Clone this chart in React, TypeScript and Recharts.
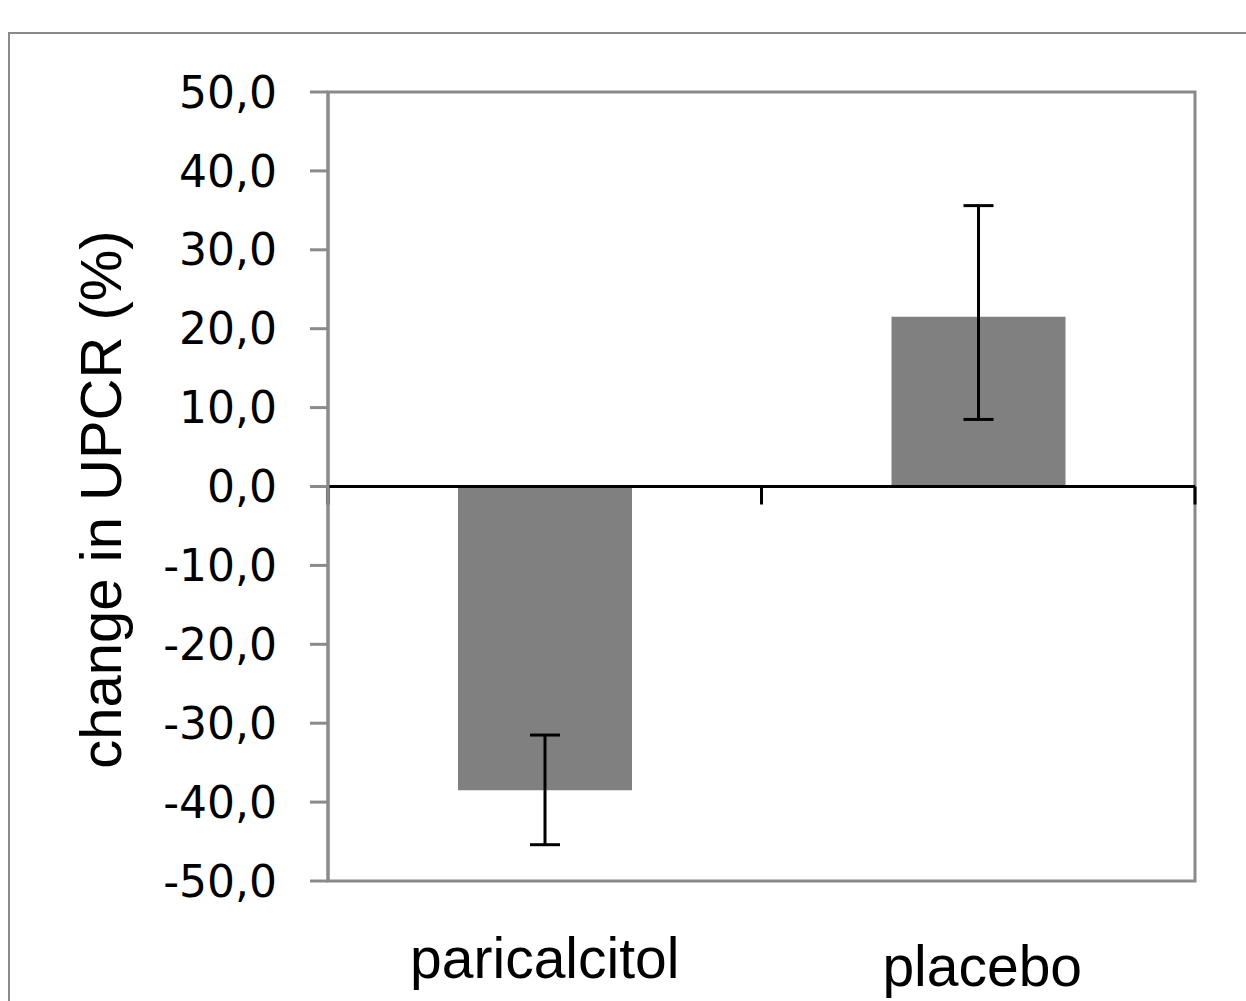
import React from 'react';
import {
  BarChart,
  Bar,
  XAxis,
  YAxis,
  ErrorBar,
  ReferenceLine,
  ReferenceArea,
} from 'recharts';

// groups and their mean change, with [below, above] error
const groups = ['paricalcitol', 'placebo'];
const meanChange = [-38.5, 21.5];
const errorRange = [
  [6.9, 7.0],
  [13.0, 14.1],
];
const yTicks = [-50, -40, -30, -20, -10, 0, 10, 20, 30, 40, 50];

const chartData = groups.map((group, i) => ({
  group,
  change: meanChange[i],
  err: errorRange[i],
}));

const GRAY = '#8a8a8a';
const LABEL_FONT = '"Liberation Sans", Arial, sans-serif';
const TICK_FONT = '"DejaVu Sans", Verdana, sans-serif';

// small per-label nudge seen in the original picture
const labelNudge: Record<string, { dx: number; dy: number }> = {
  paricalcitol: { dx: 0, dy: 0 },
  placebo: { dx: 4, dy: 8 },
};

const GroupTick = (props: any) => {
  const { x, y, payload } = props;
  const nudge = labelNudge[payload.value] || { dx: 0, dy: 0 };
  return (
    <text
      x={x + nudge.dx}
      y={y + nudge.dy}
      dy={41}
      textAnchor="middle"
      fill="#000"
      fontFamily={LABEL_FONT}
      fontSize={57}
    >
      {payload.value}
    </text>
  );
};

const YLabel = (props: any) => {
  const { viewBox } = props;
  const cx = viewBox.x + 101;
  const cy = viewBox.y + viewBox.height / 2 + 13;
  return (
    <text
      x={cx}
      y={cy}
      dy={20}
      textAnchor="middle"
      transform={`rotate(-90, ${cx}, ${cy})`}
      fill="#000"
      fontFamily={LABEL_FONT}
      fontSize={58}
    >
      change in UPCR (%)
    </text>
  );
};

// zero line with short tick marks at the category boundaries
const ZeroAxis = (props: any) => {
  const { x1, y1, x2 } = props;
  const step = (x2 - x1) / groups.length;
  const marks = Array.from({ length: groups.length + 1 }, (_, i) => x1 + i * step);
  return (
    <g>
      <line x1={x1} y1={y1} x2={x2} y2={y1} stroke="#000" strokeWidth={3} />
      {marks.map((mx, i) => (
        <line key={i} x1={mx} y1={y1} x2={mx} y2={y1 + 18} stroke="#000" strokeWidth={3} />
      ))}
    </g>
  );
};

export default function App() {
  return (
    <div
      style={{
        position: 'absolute',
        left: 0,
        top: 0,
        width: 1246,
        height: 1001,
        overflow: 'hidden',
        background: '#fff',
      }}
    >
      <div
        style={{
          position: 'absolute',
          left: 8,
          top: 32,
          width: 1400,
          height: 1200,
          border: `2px solid ${GRAY}`,
          boxSizing: 'border-box',
        }}
      />
      <div style={{ position: 'absolute', left: 0, top: 0 }}>
        <BarChart
          width={1246}
          height={1001}
          data={chartData}
          margin={{ top: 92, right: 51, bottom: 0, left: 0 }}
          barCategoryGap={0}
        >
          <XAxis
            dataKey="group"
            axisLine={false}
            tickLine={false}
            height={120}
            tick={<GroupTick />}
            tickMargin={50}
            interval={0}
          />
          <YAxis
            width={328}
            domain={[-50, 50]}
            ticks={yTicks}
            interval={0}
            tickFormatter={(v: number) => v.toFixed(1).replace('.', ',')}
            tick={{ fill: '#000', fontSize: 44, fontFamily: TICK_FONT }}
            tickSize={18}
            tickMargin={33}
            axisLine={{ stroke: GRAY, strokeWidth: 3 }}
            tickLine={{ stroke: GRAY, strokeWidth: 3 }}
            label={<YLabel />}
          />
          <ReferenceArea
            y1={-50}
            y2={50}
            fill="none"
            fillOpacity={0}
            stroke={GRAY}
            strokeWidth={3}
            ifOverflow="visible"
          />
          <Bar dataKey="change" fill="#808080" barSize={174} isAnimationActive={false}>
            <ErrorBar dataKey="err" width={15} stroke="#000" strokeWidth={3} />
          </Bar>
          <ReferenceLine y={0} shape={<ZeroAxis />} ifOverflow="visible" />
        </BarChart>
      </div>
    </div>
  );
}
